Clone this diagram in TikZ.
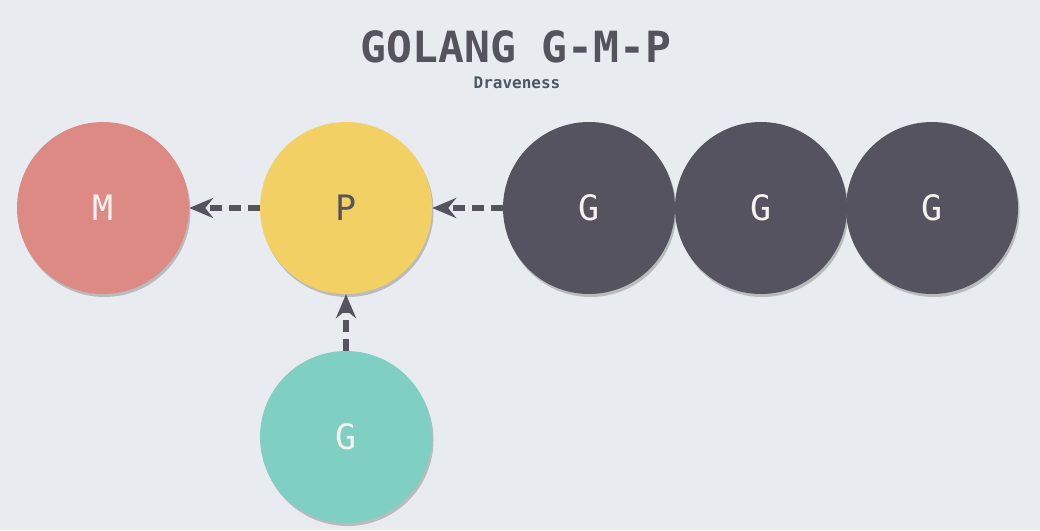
\documentclass[tikz,border=0pt]{standalone}
\usepackage{fontspec}
\setmonofont{DejaVu Sans Mono}
\usetikzlibrary{arrows.meta,shadows}
\definecolor{bg}{HTML}{E8ECF0}
\definecolor{mred}{HTML}{DE8A84}
\definecolor{pyel}{HTML}{F2D064}
\definecolor{gdark}{HTML}{55535F}
\definecolor{gteal}{HTML}{7FCFC3}
\definecolor{ink}{HTML}{55535E}
\definecolor{sub}{HTML}{4A5862}
\definecolor{light}{HTML}{F4F1EE}
\tikzset{
  ball/.style={circle, draw=none, minimum size=172pt, inner sep=0pt,
    font=\ttfamily\fontsize{35}{35}\selectfont,
    drop shadow={opacity=0.45, shadow xshift=1.5pt, shadow yshift=-3pt}},
  flow/.style={draw=ink, line width=6pt, dash pattern=on 12pt off 7pt,
    -{Stealth[length=24pt, width=20pt, inset=8pt]}}
}
\begin{document}
\begin{tikzpicture}[x=1pt,y=-1pt]
\fill[bg] (0,0) rectangle (1040,530);
\useasboundingbox (0,0) rectangle (1040,530);
\node[text=ink, font=\ttfamily\bfseries\fontsize{43}{43}\selectfont] (title) at (516,47) {GOLANG G-M-P};
\node[text=sub, font=\ttfamily\bfseries\fontsize{16}{16}\selectfont] (author) at (517,83) {Draveness};
\node[ball, fill=mred, text=light] (m) at (103,208) {M};
\node[ball, fill=pyel, text=ink] (p) at (346,208) {P};
\node[ball, fill=gdark, text=light] (g1) at (589,208) {G};
\node[ball, fill=gdark, text=light] (g2) at (761,208) {G};
\node[ball, fill=gdark, text=light] (g3) at (932,208) {G};
\node[ball, fill=gteal, text=light] (g4) at (346,437) {G};
\draw[flow] (p.west) -- (m.east);
\draw[flow] (g1.west) -- (p.east);
\draw[flow] (g4.north) -- (p.south);
\end{tikzpicture}
\end{document}
